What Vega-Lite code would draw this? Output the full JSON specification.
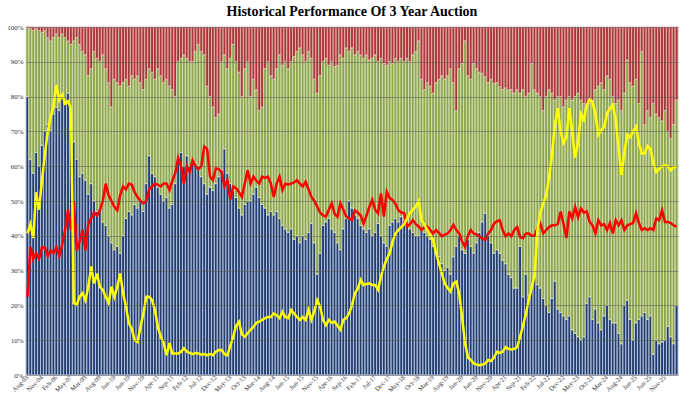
{
"$schema": "https://vega.github.io/schema/vega-lite/v6.json",
"width": 652,
"height": 348,
"autosize": {"type": "none"},
"padding": {"left": 26, "top": 27, "right": 22, "bottom": 19},
"background": "white",
"title": {"text": "Historical Performance Of 3 Year Auction", "font": "Liberation Serif", "fontSize": 14, "fontWeight": "bold", "color": "#000000", "anchor": "middle", "offset": 4},
"config": {"view": {"stroke": null}},
"data": {"values": [
{"d":"Aug-03","dealers":80,"indirects":20,"directs":0,"yld":2.44,"btc":1.35},
{"d":"Nov-03","dealers":62,"indirects":37.5,"directs":0.5,"yld":2.6,"btc":2.21},
{"d":"Feb-04","dealers":58,"indirects":41,"directs":1,"yld":2.36,"btc":2.0},
{"d":"May-04","dealers":64,"indirects":35.5,"directs":0.5,"yld":3.15,"btc":2.1},
{"d":"Aug-04","dealers":60,"indirects":39,"directs":1,"yld":2.85,"btc":2.0},
{"d":"Nov-04","dealers":66,"indirects":32.5,"directs":1.5,"yld":3.35,"btc":2.2},
{"d":"Feb-05","dealers":70,"indirects":29,"directs":1,"yld":3.8,"btc":2.2},
{"d":"May-05","dealers":72,"indirects":25,"directs":3,"yld":4.2,"btc":2.05},
{"d":"Aug-05","dealers":70,"indirects":26,"directs":4,"yld":4.45,"btc":2.15},
{"d":"Nov-05","dealers":75,"indirects":22,"directs":3,"yld":4.65,"btc":2.1},
{"d":"Feb-06","dealers":77,"indirects":21,"directs":2,"yld":5.0,"btc":2.2},
{"d":"May-06","dealers":76,"indirects":21,"directs":3,"yld":4.74,"btc":2.05},
{"d":"Aug-06","dealers":80,"indirects":18,"directs":2,"yld":4.83,"btc":2.25},
{"d":"Nov-06","dealers":78,"indirects":19,"directs":3,"yld":4.68,"btc":2.5},
{"d":"Feb-07","dealers":81,"indirects":15,"directs":4,"yld":4.72,"btc":2.85},
{"d":"May-07","dealers":70,"indirects":25,"directs":5,"yld":4.6,"btc":2.5},
{"d":"Nov-08","dealers":67,"indirects":29,"directs":4,"yld":1.24,"btc":3.0},
{"d":"Dec-08","dealers":62,"indirects":35,"directs":3,"yld":1.21,"btc":2.15},
{"d":"Jan-09","dealers":57,"indirects":38,"directs":5,"yld":1.35,"btc":2.3},
{"d":"Feb-09","dealers":58,"indirects":35,"directs":7,"yld":1.41,"btc":2.5},
{"d":"Mar-09","dealers":56,"indirects":36,"directs":8,"yld":1.29,"btc":2.15},
{"d":"Apr-09","dealers":52,"indirects":34,"directs":14,"yld":1.52,"btc":2.6},
{"d":"May-09","dealers":55,"indirects":33,"directs":12,"yld":1.87,"btc":2.7},
{"d":"Jun-09","dealers":50,"indirects":43,"directs":7,"yld":1.58,"btc":2.8},
{"d":"Jul-09","dealers":47,"indirects":44,"directs":9,"yld":1.75,"btc":2.75},
{"d":"Aug-09","dealers":48,"indirects":42,"directs":10,"yld":1.52,"btc":2.84},
{"d":"Sep-09","dealers":44,"indirects":48,"directs":8,"yld":1.47,"btc":3.0},
{"d":"Oct-09","dealers":43,"indirects":45,"directs":12,"yld":1.35,"btc":3.3},
{"d":"Nov-09","dealers":40,"indirects":44,"directs":16,"yld":1.24,"btc":3.1},
{"d":"Dec-09","dealers":38,"indirects":39,"directs":23,"yld":1.52,"btc":3.0},
{"d":"Jan-10","dealers":36,"indirects":49,"directs":15,"yld":1.35,"btc":2.9},
{"d":"Feb-10","dealers":37,"indirects":47,"directs":16,"yld":1.52,"btc":2.84},
{"d":"Mar-10","dealers":35,"indirects":48,"directs":17,"yld":1.75,"btc":3.1},
{"d":"Apr-10","dealers":40,"indirects":44,"directs":16,"yld":1.41,"btc":3.25},
{"d":"May-10","dealers":45,"indirects":40,"directs":15,"yld":1.18,"btc":3.2},
{"d":"Jun-10","dealers":47,"indirects":36,"directs":17,"yld":0.89,"btc":3.3},
{"d":"Jul-10","dealers":46,"indirects":40,"directs":14,"yld":0.8,"btc":3.28},
{"d":"Aug-10","dealers":49,"indirects":36,"directs":15,"yld":0.6,"btc":3.15},
{"d":"Sep-10","dealers":48,"indirects":38,"directs":14,"yld":0.57,"btc":3.07},
{"d":"Oct-10","dealers":50,"indirects":34,"directs":16,"yld":0.83,"btc":3.0},
{"d":"Nov-10","dealers":47,"indirects":35,"directs":18,"yld":1.06,"btc":2.96},
{"d":"Dec-10","dealers":55,"indirects":30,"directs":15,"yld":1.35,"btc":3.0},
{"d":"Jan-11","dealers":63,"indirects":25,"directs":12,"yld":1.35,"btc":3.2},
{"d":"Feb-11","dealers":58,"indirects":29,"directs":13,"yld":1.29,"btc":3.25},
{"d":"Mar-11","dealers":57,"indirects":28,"directs":15,"yld":1.12,"btc":3.3},
{"d":"Apr-11","dealers":54,"indirects":34,"directs":12,"yld":0.83,"btc":3.28},
{"d":"May-11","dealers":52,"indirects":34,"directs":14,"yld":0.66,"btc":3.25},
{"d":"Jun-11","dealers":50,"indirects":34,"directs":16,"yld":0.55,"btc":3.3},
{"d":"Jul-11","dealers":51,"indirects":34,"directs":15,"yld":0.34,"btc":3.3},
{"d":"Aug-11","dealers":48,"indirects":35,"directs":17,"yld":0.55,"btc":3.19},
{"d":"Sep-11","dealers":49,"indirects":33,"directs":18,"yld":0.37,"btc":3.35},
{"d":"Oct-11","dealers":55,"indirects":25,"directs":20,"yld":0.37,"btc":3.48},
{"d":"Nov-11","dealers":62,"indirects":28,"directs":10,"yld":0.37,"btc":3.74},
{"d":"Dec-11","dealers":64,"indirects":27,"directs":9,"yld":0.4,"btc":3.6},
{"d":"Jan-12","dealers":60,"indirects":32,"directs":8,"yld":0.46,"btc":3.3},
{"d":"Feb-12","dealers":63,"indirects":28,"directs":9,"yld":0.4,"btc":3.6},
{"d":"Mar-12","dealers":60,"indirects":30,"directs":10,"yld":0.38,"btc":3.5},
{"d":"Apr-12","dealers":62,"indirects":28,"directs":10,"yld":0.36,"btc":3.7},
{"d":"May-12","dealers":61,"indirects":32,"directs":7,"yld":0.38,"btc":3.6},
{"d":"Jun-12","dealers":60,"indirects":35,"directs":5,"yld":0.37,"btc":3.55},
{"d":"Jul-12","dealers":57,"indirects":36,"directs":7,"yld":0.35,"btc":3.6},
{"d":"Aug-12","dealers":55,"indirects":37,"directs":8,"yld":0.36,"btc":3.94},
{"d":"Sep-12","dealers":52,"indirects":31,"directs":17,"yld":0.34,"btc":3.9},
{"d":"Oct-12","dealers":54,"indirects":26,"directs":20,"yld":0.36,"btc":3.42},
{"d":"Nov-12","dealers":53,"indirects":24,"directs":23,"yld":0.34,"btc":3.36},
{"d":"Dec-12","dealers":55,"indirects":19,"directs":26,"yld":0.4,"btc":3.56},
{"d":"Jan-13","dealers":57,"indirects":18,"directs":25,"yld":0.43,"btc":3.55},
{"d":"Feb-13","dealers":59,"indirects":31,"directs":10,"yld":0.43,"btc":3.5},
{"d":"Mar-13","dealers":65,"indirects":27,"directs":8,"yld":0.36,"btc":3.25},
{"d":"Apr-13","dealers":58,"indirects":30,"directs":12,"yld":0.34,"btc":3.36},
{"d":"May-13","dealers":55,"indirects":36,"directs":9,"yld":0.5,"btc":3.02},
{"d":"Jun-13","dealers":53,"indirects":42,"directs":5,"yld":0.66,"btc":3.25},
{"d":"Jul-13","dealers":51,"indirects":39,"directs":10,"yld":0.85,"btc":3.22},
{"d":"Aug-13","dealers":48,"indirects":39,"directs":13,"yld":0.92,"btc":3.15},
{"d":"Sep-13","dealers":46,"indirects":34,"directs":20,"yld":0.7,"btc":3.07},
{"d":"Oct-13","dealers":49,"indirects":39,"directs":12,"yld":0.66,"btc":3.3},
{"d":"Nov-13","dealers":50,"indirects":40,"directs":10,"yld":0.72,"btc":3.53},
{"d":"Dec-13","dealers":50,"indirects":30,"directs":20,"yld":0.78,"btc":3.3},
{"d":"Jan-14","dealers":52,"indirects":33,"directs":15,"yld":0.83,"btc":3.42},
{"d":"Feb-14","dealers":54,"indirects":28,"directs":18,"yld":0.9,"btc":3.35},
{"d":"Mar-14","dealers":51,"indirects":25,"directs":24,"yld":0.92,"btc":3.3},
{"d":"Apr-14","dealers":49,"indirects":28,"directs":23,"yld":0.95,"btc":3.42},
{"d":"May-14","dealers":48,"indirects":40,"directs":12,"yld":0.98,"btc":3.4},
{"d":"Jun-14","dealers":46,"indirects":44,"directs":10,"yld":1.0,"btc":3.42},
{"d":"Jul-14","dealers":47,"indirects":39,"directs":14,"yld":1.0,"btc":3.3},
{"d":"Aug-14","dealers":46,"indirects":39,"directs":15,"yld":1.06,"btc":3.07},
{"d":"Sep-14","dealers":47,"indirects":41,"directs":12,"yld":1.03,"btc":3.3},
{"d":"Oct-14","dealers":45,"indirects":47,"directs":8,"yld":0.98,"btc":3.42},
{"d":"Nov-14","dealers":43,"indirects":46,"directs":11,"yld":1.09,"btc":3.19},
{"d":"Dec-14","dealers":42,"indirects":48,"directs":10,"yld":1.0,"btc":3.3},
{"d":"Jan-15","dealers":41,"indirects":47,"directs":12,"yld":0.98,"btc":3.28},
{"d":"Feb-15","dealers":42,"indirects":48,"directs":10,"yld":1.12,"btc":3.3},
{"d":"Mar-15","dealers":39,"indirects":52.5,"directs":8.5,"yld":1.06,"btc":3.32},
{"d":"Apr-15","dealers":40,"indirects":53,"directs":7,"yld":1.0,"btc":3.36},
{"d":"May-15","dealers":38,"indirects":56,"directs":6,"yld":0.95,"btc":3.3},
{"d":"Jun-15","dealers":40,"indirects":52,"directs":8,"yld":1.0,"btc":3.25},
{"d":"Jul-15","dealers":39,"indirects":51,"directs":10,"yld":0.95,"btc":3.33},
{"d":"Aug-15","dealers":41,"indirects":52,"directs":7,"yld":1.12,"btc":3.2},
{"d":"Sep-15","dealers":43.6,"indirects":47.4,"directs":9,"yld":0.95,"btc":3.07},
{"d":"Oct-15","dealers":38,"indirects":47,"directs":15,"yld":1.1,"btc":3.0},
{"d":"Nov-15","dealers":29,"indirects":52,"directs":19,"yld":1.29,"btc":2.9},
{"d":"Dec-15","dealers":35,"indirects":51,"directs":14,"yld":1.18,"btc":2.8},
{"d":"Jan-16","dealers":43,"indirects":47,"directs":10,"yld":0.95,"btc":2.75},
{"d":"Feb-16","dealers":44,"indirects":47,"directs":9,"yld":0.86,"btc":2.73},
{"d":"Mar-16","dealers":45,"indirects":44,"directs":11,"yld":0.95,"btc":2.85},
{"d":"Apr-16","dealers":42,"indirects":48,"directs":10,"yld":0.9,"btc":2.96},
{"d":"May-16","dealers":41,"indirects":47.6,"directs":11.4,"yld":0.92,"btc":2.78},
{"d":"Jun-16","dealers":38,"indirects":51,"directs":11,"yld":0.85,"btc":2.73},
{"d":"Jul-16","dealers":36,"indirects":56,"directs":8,"yld":0.78,"btc":2.96},
{"d":"Aug-16","dealers":42,"indirects":49,"directs":9,"yld":0.95,"btc":2.85},
{"d":"Sep-16","dealers":45,"indirects":49,"directs":6,"yld":0.98,"btc":2.73},
{"d":"Oct-16","dealers":50,"indirects":43,"directs":7,"yld":1.06,"btc":2.7},
{"d":"Nov-16","dealers":48,"indirects":46,"directs":6,"yld":1.2,"btc":2.67},
{"d":"Dec-16","dealers":46,"indirects":46,"directs":8,"yld":1.41,"btc":2.84},
{"d":"Jan-17","dealers":45,"indirects":48,"directs":7,"yld":1.49,"btc":2.8},
{"d":"Feb-17","dealers":43,"indirects":49,"directs":8,"yld":1.64,"btc":2.75},
{"d":"Mar-17","dealers":42,"indirects":49,"directs":9,"yld":1.55,"btc":2.61},
{"d":"Apr-17","dealers":41,"indirects":51,"directs":8,"yld":1.57,"btc":2.75},
{"d":"May-17","dealers":42,"indirects":48.5,"directs":9.5,"yld":1.58,"btc":2.9},
{"d":"Jun-17","dealers":40,"indirects":51,"directs":9,"yld":1.55,"btc":3.02},
{"d":"Jul-17","dealers":41,"indirects":51,"directs":8,"yld":1.55,"btc":2.85},
{"d":"Aug-17","dealers":43.6,"indirects":46.4,"directs":10,"yld":1.47,"btc":2.79},
{"d":"Sep-17","dealers":40,"indirects":51,"directs":9,"yld":1.7,"btc":3.13},
{"d":"Oct-17","dealers":38,"indirects":51.5,"directs":10.5,"yld":1.87,"btc":2.73},
{"d":"Nov-17","dealers":37,"indirects":52,"directs":11,"yld":2.0,"btc":3.16},
{"d":"Dec-17","dealers":43,"indirects":47,"directs":10,"yld":2.1,"btc":3.05},
{"d":"Jan-18","dealers":44,"indirects":45.5,"directs":10.5,"yld":2.3,"btc":3.02},
{"d":"Feb-18","dealers":45,"indirects":46,"directs":9,"yld":2.44,"btc":2.95},
{"d":"Mar-18","dealers":44,"indirects":46,"directs":10,"yld":2.5,"btc":2.84},
{"d":"Apr-18","dealers":45.5,"indirects":45.5,"directs":9,"yld":2.55,"btc":2.8},
{"d":"May-18","dealers":44.5,"indirects":45.5,"directs":10,"yld":2.6,"btc":2.79},
{"d":"Jun-18","dealers":43,"indirects":48,"directs":9,"yld":2.7,"btc":2.56},
{"d":"Jul-18","dealers":42,"indirects":48,"directs":10,"yld":2.79,"btc":2.6},
{"d":"Aug-18","dealers":41,"indirects":51,"directs":8,"yld":2.85,"btc":2.67},
{"d":"Sep-18","dealers":40,"indirects":53,"directs":7,"yld":2.9,"btc":2.6},
{"d":"Oct-18","dealers":40,"indirects":56,"directs":4,"yld":3.0,"btc":2.56},
{"d":"Nov-18","dealers":42,"indirects":43,"directs":15,"yld":2.67,"btc":2.5},
{"d":"Dec-18","dealers":41,"indirects":41,"directs":18,"yld":2.59,"btc":2.55},
{"d":"Jan-19","dealers":40,"indirects":44,"directs":16,"yld":2.5,"btc":2.56},
{"d":"Feb-19","dealers":39,"indirects":44,"directs":17,"yld":2.4,"btc":2.5},
{"d":"Mar-19","dealers":37,"indirects":44,"directs":19,"yld":2.33,"btc":2.44},
{"d":"Apr-19","dealers":35,"indirects":49,"directs":16,"yld":2.1,"btc":2.5},
{"d":"May-19","dealers":34,"indirects":51,"directs":15,"yld":1.93,"btc":2.45},
{"d":"Jun-19","dealers":32,"indirects":54,"directs":14,"yld":1.75,"btc":2.39},
{"d":"Jul-19","dealers":30,"indirects":55,"directs":15,"yld":1.58,"btc":2.42},
{"d":"Aug-19","dealers":31,"indirects":55,"directs":14,"yld":1.5,"btc":2.44},
{"d":"Sep-19","dealers":29,"indirects":59,"directs":12,"yld":1.44,"btc":2.5},
{"d":"Oct-19","dealers":34,"indirects":50,"directs":16,"yld":1.58,"btc":2.59},
{"d":"Nov-19","dealers":37,"indirects":39,"directs":24,"yld":1.61,"btc":2.5},
{"d":"Dec-19","dealers":40,"indirects":48,"directs":12,"yld":1.4,"btc":2.44},
{"d":"Jan-20","dealers":36,"indirects":53.5,"directs":10.5,"yld":1.0,"btc":2.3},
{"d":"Feb-20","dealers":35,"indirects":61,"directs":4,"yld":0.55,"btc":2.21},
{"d":"Mar-20","dealers":39,"indirects":47,"directs":14,"yld":0.3,"btc":2.4},
{"d":"Apr-20","dealers":37,"indirects":48,"directs":15,"yld":0.26,"btc":2.5},
{"d":"May-20","dealers":35,"indirects":54.5,"directs":10.5,"yld":0.2,"btc":2.44},
{"d":"Jun-20","dealers":38,"indirects":50,"directs":12,"yld":0.18,"btc":2.42},
{"d":"Jul-20","dealers":41,"indirects":46,"directs":13,"yld":0.17,"btc":2.39},
{"d":"Aug-20","dealers":44,"indirects":42.7,"directs":13.3,"yld":0.18,"btc":2.35},
{"d":"Sep-20","dealers":46.5,"indirects":39.2,"directs":14.3,"yld":0.2,"btc":2.33},
{"d":"Oct-20","dealers":40,"indirects":44,"directs":16,"yld":0.26,"btc":2.44},
{"d":"Nov-20","dealers":38,"indirects":47,"directs":15,"yld":0.24,"btc":2.5},
{"d":"Dec-20","dealers":35,"indirects":48.8,"directs":16.2,"yld":0.3,"btc":2.61},
{"d":"Jan-21","dealers":36,"indirects":48,"directs":16,"yld":0.4,"btc":2.65},
{"d":"Feb-21","dealers":35,"indirects":47.9,"directs":17.1,"yld":0.38,"btc":2.67},
{"d":"Mar-21","dealers":33,"indirects":49,"directs":18,"yld":0.4,"btc":2.5},
{"d":"Apr-21","dealers":32,"indirects":50.5,"directs":17.5,"yld":0.48,"btc":2.39},
{"d":"May-21","dealers":29,"indirects":52.9,"directs":18.1,"yld":0.45,"btc":2.44},
{"d":"Jun-21","dealers":28,"indirects":54,"directs":18,"yld":0.44,"btc":2.39},
{"d":"Jul-21","dealers":25,"indirects":56,"directs":19,"yld":0.45,"btc":2.5},
{"d":"Aug-21","dealers":25,"indirects":57,"directs":18,"yld":0.48,"btc":2.55},
{"d":"Sep-21","dealers":37,"indirects":44,"directs":19,"yld":0.66,"btc":2.38},
{"d":"Oct-21","dealers":22.5,"indirects":59.5,"directs":18,"yld":0.85,"btc":2.36},
{"d":"Nov-21","dealers":29,"indirects":51,"directs":20,"yld":1.05,"btc":2.44},
{"d":"Dec-21","dealers":23,"indirects":58,"directs":19,"yld":1.3,"btc":2.44},
{"d":"Jan-22","dealers":25,"indirects":64.5,"directs":10.5,"yld":1.5,"btc":2.4},
{"d":"Feb-22","dealers":28,"indirects":54,"directs":18,"yld":1.72,"btc":2.4},
{"d":"Mar-22","dealers":26,"indirects":55,"directs":19,"yld":2.5,"btc":2.53},
{"d":"Apr-22","dealers":25,"indirects":55,"directs":20,"yld":2.8,"btc":2.61},
{"d":"May-22","dealers":22,"indirects":54,"directs":24,"yld":2.95,"btc":2.44},
{"d":"Jun-22","dealers":20,"indirects":60,"directs":20,"yld":3.1,"btc":2.5},
{"d":"Jul-22","dealers":18,"indirects":64,"directs":18,"yld":3.4,"btc":2.55},
{"d":"Aug-22","dealers":22,"indirects":59,"directs":19,"yld":3.8,"btc":2.58},
{"d":"Sep-22","dealers":27,"indirects":52,"directs":21,"yld":4.3,"btc":2.58},
{"d":"Oct-22","dealers":19,"indirects":61,"directs":20,"yld":4.6,"btc":2.6},
{"d":"Nov-22","dealers":18,"indirects":62,"directs":20,"yld":4.2,"btc":2.82},
{"d":"Dec-22","dealers":17,"indirects":60,"directs":23,"yld":4.0,"btc":2.6},
{"d":"Jan-23","dealers":16,"indirects":63,"directs":21,"yld":4.1,"btc":2.36},
{"d":"Feb-23","dealers":17,"indirects":63,"directs":20,"yld":4.6,"btc":2.82},
{"d":"Mar-23","dealers":13,"indirects":66,"directs":21,"yld":4.2,"btc":2.7},
{"d":"Apr-23","dealers":12,"indirects":68,"directs":20,"yld":3.75,"btc":2.9},
{"d":"May-23","dealers":11,"indirects":70,"directs":19,"yld":4.0,"btc":2.72},
{"d":"Jun-23","dealers":10,"indirects":69,"directs":21,"yld":4.5,"btc":2.87},
{"d":"Jul-23","dealers":11,"indirects":67,"directs":22,"yld":4.4,"btc":2.8},
{"d":"Aug-23","dealers":20.6,"indirects":56.4,"directs":23,"yld":4.65,"btc":2.82},
{"d":"Sep-23","dealers":22.5,"indirects":55.5,"directs":22,"yld":4.75,"btc":2.64},
{"d":"Oct-23","dealers":16,"indirects":63,"directs":21,"yld":4.7,"btc":2.58},
{"d":"Nov-23","dealers":19,"indirects":63,"directs":18,"yld":4.5,"btc":2.44},
{"d":"Dec-23","dealers":15,"indirects":68,"directs":17,"yld":4.14,"btc":2.67},
{"d":"Jan-24","dealers":13,"indirects":71,"directs":16,"yld":4.22,"btc":2.58},
{"d":"Feb-24","dealers":17,"indirects":65,"directs":18,"yld":4.28,"btc":2.6},
{"d":"Mar-24","dealers":20,"indirects":66,"directs":14,"yld":4.5,"btc":2.5},
{"d":"Apr-24","dealers":16,"indirects":69,"directs":15,"yld":4.6,"btc":2.62},
{"d":"May-24","dealers":15,"indirects":65,"directs":20,"yld":4.66,"btc":2.44},
{"d":"Jun-24","dealers":15,"indirects":63,"directs":22,"yld":4.4,"btc":2.67},
{"d":"Jul-24","dealers":12,"indirects":67,"directs":21,"yld":3.9,"btc":2.58},
{"d":"Aug-24","dealers":9,"indirects":67,"directs":24,"yld":3.45,"btc":2.67},
{"d":"Sep-24","dealers":20,"indirects":61,"directs":19,"yld":3.85,"btc":2.5},
{"d":"Oct-24","dealers":21.5,"indirects":69,"directs":9.5,"yld":4.14,"btc":2.58},
{"d":"Nov-24","dealers":16,"indirects":68,"directs":16,"yld":4.1,"btc":2.6},
{"d":"Dec-24","dealers":10,"indirects":73,"directs":17,"yld":4.2,"btc":2.62},
{"d":"Jan-25","dealers":15,"indirects":70,"directs":15,"yld":4.28,"btc":2.79},
{"d":"Feb-25","dealers":16,"indirects":62,"directs":22,"yld":4.0,"btc":2.62},
{"d":"Mar-25","dealers":17,"indirects":76,"directs":7,"yld":3.82,"btc":2.5},
{"d":"Apr-25","dealers":18,"indirects":54,"directs":28,"yld":3.82,"btc":2.53},
{"d":"May-25","dealers":16,"indirects":60,"directs":24,"yld":3.95,"btc":2.5},
{"d":"Jun-25","dealers":17,"indirects":57,"directs":26,"yld":3.9,"btc":2.53},
{"d":"Jul-25","dealers":6,"indirects":72,"directs":22,"yld":3.65,"btc":2.5},
{"d":"Aug-25","dealers":10,"indirects":65,"directs":25,"yld":3.5,"btc":2.7},
{"d":"Sep-25","dealers":9,"indirects":65,"directs":26,"yld":3.55,"btc":2.67},
{"d":"Oct-25","dealers":9.5,"indirects":63.5,"directs":27,"yld":3.6,"btc":2.84},
{"d":"Nov-25","dealers":10,"indirects":66,"directs":24,"yld":3.62,"btc":2.64},
{"d":"Dec-25","dealers":14,"indirects":56,"directs":30,"yld":3.6,"btc":2.64},
{"d":"Jan-26","dealers":11,"indirects":57,"directs":32,"yld":3.53,"btc":2.62},
{"d":"Feb-26","dealers":9,"indirects":63,"directs":28,"yld":3.58,"btc":2.58},
{"d":"Mar-26","dealers":20,"indirects":59,"directs":21,"yld":3.6,"btc":2.56}
]},
"encoding": {
  "x": {"field": "d", "type": "ordinal", "sort": null, "scale": {"paddingInner": 0, "paddingOuter": 0},
    "axis": {"title": null, "values": ["Aug-03","Nov-04","Feb-06","May-07","Mar-09","Aug-09","Jan-10","Jun-10","Nov-10","Apr-11","Sep-11","Feb-12","Jul-12","Dec-12","May-13","Oct-13","Mar-14","Aug-14","Jan-15","Jun-15","Nov-15","Apr-16","Sep-16","Feb-17","Jul-17","Dec-17","May-18","Oct-18","Mar-19","Aug-19","Jan-20","Jun-20","Nov-20","Apr-21","Sep-21","Feb-22","Jul-22","Dec-22","May-23","Oct-23","Mar-24","Aug-24","Jan-25","Jun-25","Nov-25"],
      "labelAngle": -45, "labelAlign": "right", "labelBaseline": "middle", "labelOverlap": false, "labelBound": false, "labelFont": "Liberation Serif", "labelFontSize": 6.5, "labelColor": "#333333", "labelPadding": 1, "ticks": false, "domain": false, "grid": false}}
},
"layer": [
  {
    "transform": [
      {"fold": ["dealers", "indirects", "directs"], "as": ["bidder", "share"]},
      {"window": [{"op": "row_number", "as": "rank"}], "groupby": ["d"]}
    ],
    "mark": {"type": "bar", "strokeWidth": 1},
    "encoding": {
      "y": {"field": "share", "type": "quantitative", "stack": "zero", "scale": {"domain": [0, 100], "nice": false},
        "axis": {"title": null, "values": [0,10,20,30,40,50,60,70,80,90,100], "labelExpr": "datum.value + '%'", "grid": true, "gridColor": "#555555", "gridWidth": 0.7, "gridOpacity": 0.7, "domain": false, "ticks": false, "labelFont": "Liberation Serif", "labelFontSize": 7, "labelColor": "#333333", "labelPadding": 3, "zindex": 1}},
      "fill": {"field": "bidder", "type": "nominal", "scale": {"domain": ["dealers", "indirects", "directs"], "range": ["#223d70", "#8da64e", "#a93737"]}, "legend": null},
      "stroke": {"field": "bidder", "type": "nominal", "scale": {"domain": ["dealers", "indirects", "directs"], "range": ["#b7c3da", "#d3ddb0", "#e3aeae"]}, "legend": null},
      "order": {"field": "rank", "type": "quantitative"}
    }
  },
  {
    "layer": [
      {"mark": {"type": "line", "color": "#ff0000", "strokeWidth": 2.5},
       "encoding": {"y": {"field": "btc", "type": "quantitative", "scale": {"domain": [0, 6], "nice": false},
         "axis": {"orient": "right", "title": null, "values": [0,1,2,3,4,5,6], "format": ".3f", "grid": false, "domain": false, "ticks": false, "labelFont": "Liberation Serif", "labelFontSize": 7, "labelColor": "#333333", "labelPadding": 4}}}},
      {"mark": {"type": "line", "color": "#ffff00", "strokeWidth": 2.5},
       "encoding": {"y": {"field": "yld", "type": "quantitative", "scale": {"domain": [0, 6], "nice": false}, "axis": null}}}
    ]
  }
],
"resolve": {"scale": {"y": "independent", "fill": "independent", "stroke": "independent"}}
}
